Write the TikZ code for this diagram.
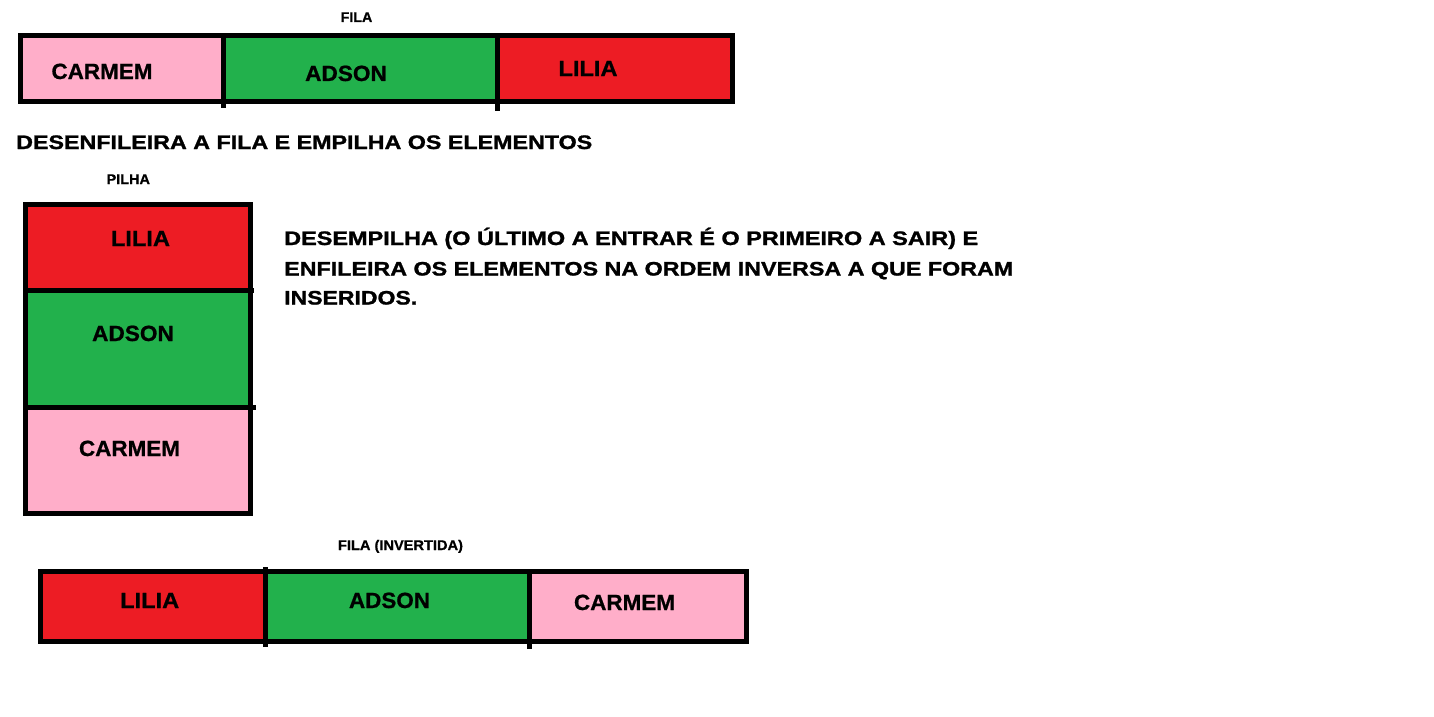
\documentclass[tikz,border=0pt]{standalone}
\usepackage{fontspec}
\usepackage{graphicx}
\setmainfont{Liberation Sans}
\newfontfamily\heavy[FakeBold=1.2]{Liberation Sans Bold}
\newfontfamily\heavyb[FakeBold=0.8]{Liberation Sans Bold}
\definecolor{pk}{RGB}{255,174,201}
\definecolor{gr}{RGB}{34,177,76}
\definecolor{rd}{RGB}{237,28,36}
\newcommand\fitw[2]{\resizebox{#1pt}{\height}{#2}}
\tikzset{
  cell/.style={line width=5pt, draw=black},
  div/.style={line width=5pt, draw=black},
  big/.style={inner sep=0pt, anchor=base, font=\fontsize{22pt}{24pt}\heavyb},
  small/.style={inner sep=0pt, anchor=base, font=\fontsize{14pt}{16pt}\heavyb},
  mid/.style={inner sep=0pt, anchor=base west, font=\fontsize{19.5pt}{22pt}\heavy},
}
\begin{document}
\begin{tikzpicture}[x=1pt,y=-1pt]
\useasboundingbox (0,0) rectangle (1434,717);
\fill[white] (0,0) rectangle (1434,717);
% top queue
\fill[pk] (20.5,35.5) rectangle (223.5,101.5);
\fill[gr] (223.5,35.5) rectangle (497,101.5);
\fill[rd] (497,35.5) rectangle (732.5,101.5);
\draw[cell] (20.5,35.5) rectangle (732.5,101.5);
\draw[div] (223.5,35.5) -- (223.5,108);
\draw[div] (497,35.5) -- (497,111);
\node[small] (t1) at (356.5,22) {\fitw{31.6}{FILA}};
\node[big] (q1a) at (102,79) {\fitw{101}{CARMEM}};
\node[big] (q1b) at (346,81) {\fitw{81.7}{ADSON}};
\node[big] (q1c) at (588,76) {\fitw{59}{LILIA}};
% heading
\node[mid] (h) at (16,149) {\fitw{576}{DESENFILEIRA A FILA E EMPILHA OS ELEMENTOS}};
% stack
\node[small] (t2) at (128.3,184) {\fitw{43.3}{PILHA}};
\fill[rd] (25.5,204.5) rectangle (250.5,290);
\fill[gr] (25.5,290) rectangle (250.5,407.5);
\fill[pk] (25.5,407.5) rectangle (250.5,513);
\draw[cell] (25.5,204.5) rectangle (250.5,513);
\draw[div] (25.5,290) -- (254,290);
\draw[div] (25.5,407.5) -- (255.5,407.5);
\node[big] (s1) at (140.5,246) {\fitw{59}{LILIA}};
\node[big] (s2) at (133,341) {\fitw{81.7}{ADSON}};
\node[big] (s3) at (129.5,456) {\fitw{101}{CARMEM}};
% description
\node[mid] (d1) at (284,245) {\fitw{694}{DESEMPILHA (O ÚLTIMO A ENTRAR É O PRIMEIRO A SAIR) E}};
\node[mid] (d2) at (284,275.5) {\fitw{729}{ENFILEIRA OS ELEMENTOS NA ORDEM INVERSA A QUE FORAM}};
\node[mid] (d3) at (284,304.5) {\fitw{133}{INSERIDOS.}};
% bottom queue
\node[small] (t3) at (400.5,550) {\fitw{125}{FILA (INVERTIDA)}};
\fill[rd] (40.5,571) rectangle (265.5,641);
\fill[gr] (265.5,571) rectangle (529,641);
\fill[pk] (529,571) rectangle (746.5,641);
\draw[cell] (40.5,571) rectangle (746.5,641);
\draw[div] (265.5,567) -- (265.5,646.5);
\draw[div] (529,571) -- (529,649);
\node[big] (b1) at (149.7,608) {\fitw{59}{LILIA}};
\node[big] (b2) at (389.5,608) {\fitw{81}{ADSON}};
\node[big] (b3) at (624.5,610) {\fitw{101}{CARMEM}};
\end{tikzpicture}
\end{document}
